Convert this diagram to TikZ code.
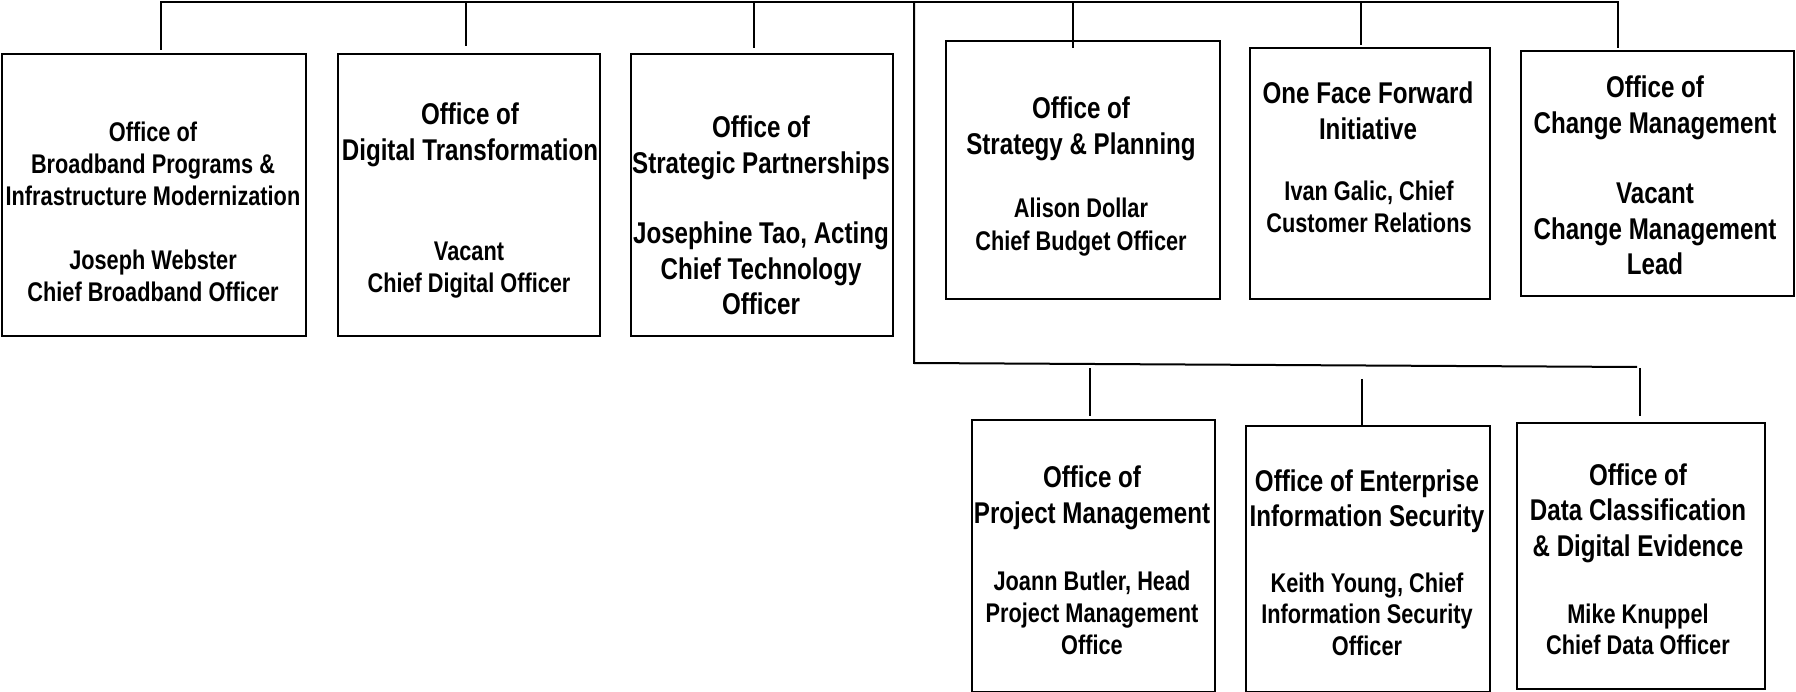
\documentclass[tikz,border=0pt]{standalone}
\usepackage{fontspec}
\newfontfamily\orgfont{Liberation Sans}[FakeStretch=0.805]
\begin{document}
\begin{tikzpicture}[x=1pt,y=-1pt,
  office/.style={draw=black,line width=2pt,fill=white,inner sep=0pt},
  link/.style={draw=black,line width=2pt},
  txt/.style={inner sep=0pt,anchor=base},
  bigtxt/.style={font=\orgfont\bfseries\fontsize{30}{35}\selectfont},
  smalltxt/.style={font=\orgfont\bfseries\fontsize{27}{32}\selectfont}]
\useasboundingbox (0,0) rectangle (1796,692);

% an office box given by its left, top, right and bottom edges
\newcommand\officebox[5]{%
  \node[office,minimum width={(#4-#2)*1pt},minimum height={(#5-#3)*1pt}]
    (#1) at ({(#2+#4)/2},{(#3+#5)/2}) {};}
% centred lines of text: name, style, x, first baseline, line spacing, lines
\newcommand\txtlines[6]{%
  \foreach \ttxt [count=\idx] in {#6}{%
    \node[txt,#2] (#1-\idx) at (#3,{#4+(\idx-1)*#5}) {\ttxt};}}

% ---- connectors ----
\coordinate (busL) at (161,2);
\coordinate (busR) at (1618,2);
\coordinate (spine) at (914,2);
\coordinate (spineB) at (914,363);
\coordinate (bus2R) at (1637,367);
\coordinate (d1) at (161,50);
\coordinate (u2) at (466,2);   \coordinate (d2) at (466,46);
\coordinate (u3) at (754,2);   \coordinate (d3) at (754,48);
\coordinate (u4) at (1073,2);  \coordinate (d4) at (1073,48);
\coordinate (u5) at (1361,2);  \coordinate (d5) at (1361,45);
\coordinate (d6) at (1618,48);
\coordinate (u7) at (1090,368); \coordinate (d7) at (1090,416);
\coordinate (u8) at (1362,379); \coordinate (d8) at (1362,425);
\coordinate (u9) at (1640,368); \coordinate (d9) at (1640,416);

\draw[link] (d1) -- (busL) -- (busR) -- (d6);
\draw[link] (u2) -- (d2);
\draw[link] (u3) -- (d3);
\draw[link] (u5) -- (d5);
\draw[link] (spine) -- (spineB) -- (bus2R);
\draw[link] (u7) -- (d7);
\draw[link] (u8) -- (d8);
\draw[link] (u9) -- (d9);

% ---- offices ----
\officebox{b1}{2}{54}{306}{336}
\officebox{b2}{338}{54}{600}{336}
\officebox{b3}{631}{54}{893}{336}
\officebox{b4}{946}{41}{1220}{299}
\draw[link] (u4) -- (d4);
\officebox{b5}{1250}{48}{1490}{299}
\officebox{b6}{1521}{51}{1794}{296}
\officebox{b7}{972}{420}{1215}{692}
\officebox{b8}{1246}{426}{1490}{692}
\officebox{b9}{1517}{423}{1765}{689}

% ---- texts ----
\txtlines{b1t}{smalltxt}{153}{142}{32}{Office of,Broadband Programs \&,Infrastructure Modernization}
\txtlines{b1n}{smalltxt}{153}{270}{32}{Joseph Webster,Chief Broadband Officer}

\txtlines{b2t}{bigtxt}{470}{125}{35.5}{Office of,Digital Transformation}
\txtlines{b2n}{smalltxt}{469}{261}{32}{Vacant,Chief Digital Officer}

\txtlines{b3t}{bigtxt}{761}{138}{35.5}{Office of,Strategic Partnerships}
\txtlines{b3n}{bigtxt}{761}{244}{35.5}{{Josephine Tao, Acting},Chief Technology,Officer}

\txtlines{b4t}{bigtxt}{1081}{119}{36}{Office of,Strategy \& Planning}
\txtlines{b4n}{smalltxt}{1081}{218}{32.5}{Alison Dollar,Chief Budget Officer}

\txtlines{b5t}{bigtxt}{1368}{104}{35.5}{One Face Forward,Initiative}
\txtlines{b5n}{smalltxt}{1369}{201}{32}{{Ivan Galic, Chief},Customer Relations}

\txtlines{b6t}{bigtxt}{1655}{98}{36}{Office of,Change Management}
\txtlines{b6n}{bigtxt}{1655}{204}{35.5}{Vacant,Change Management,Lead}

\txtlines{b7t}{bigtxt}{1092}{487}{36}{Office of,Project Management}
\txtlines{b7n}{smalltxt}{1092}{590}{32}{{Joann Butler, Head},Project Management,Office}

\txtlines{b8t}{bigtxt}{1367}{491}{35.5}{Office of Enterprise,Information Security}
\txtlines{b8n}{smalltxt}{1367}{592}{31.5}{{Keith Young, Chief},Information Security,Officer}

\txtlines{b9t}{bigtxt}{1638}{485}{35.5}{Office of,Data Classification,\& Digital Evidence}
\txtlines{b9n}{smalltxt}{1638}{623}{31}{Mike Knuppel,Chief Data Officer}
\end{tikzpicture}
\end{document}
